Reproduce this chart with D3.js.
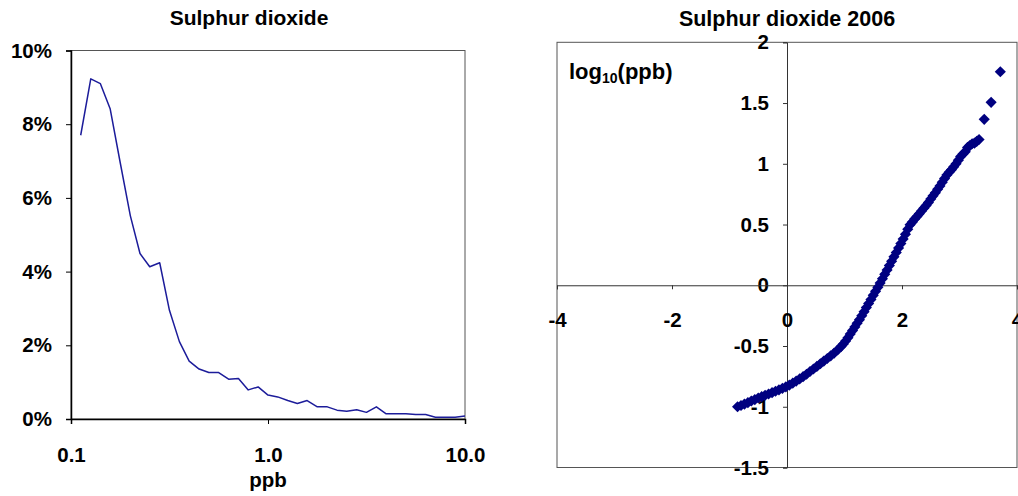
<!DOCTYPE html>
<html>
<head>
<meta charset="utf-8">
<script src="https://cdn.jsdelivr.net/npm/d3@7"></script>
<style>
  html, body { margin: 0; padding: 0; background: #fff; }
  svg { display: block; }
  text { font-family: "Liberation Sans", Arial, Helvetica, sans-serif; font-weight: bold; fill: #000; }
</style>
</head>
<body>
<svg id="chart" width="1018" height="496"></svg>
<script>
// Frequency distribution of hourly SO2 concentrations (log-spaced bins)
const binPpb = [0.112, 0.126, 0.141, 0.158, 0.178, 0.2, 0.224, 0.251, 0.282, 0.316,
                0.355, 0.398, 0.447, 0.501, 0.562, 0.631, 0.708, 0.794, 0.891, 1.0,
                1.12, 1.26, 1.41, 1.58, 1.78, 2.0, 2.24, 2.51, 2.82, 3.16,
                3.55, 3.98, 4.47, 5.01, 5.62, 6.31, 7.08, 7.94, 8.91, 10.0];
const binShare = [7.7, 9.23, 9.1, 8.42, 6.94, 5.52, 4.49, 4.13, 4.24, 2.95,
                  2.1, 1.57, 1.355, 1.26, 1.26, 1.08, 1.1, 0.79, 0.87, 0.65,
                  0.6, 0.5, 0.42, 0.5, 0.33, 0.33, 0.24, 0.21, 0.25, 0.18,
                  0.33, 0.14, 0.14, 0.14, 0.12, 0.12, 0.05, 0.05, 0.05, 0.08];
const distXTicks = [0.1, 1, 10];
const distYTicks = [0, 2, 4, 6, 8, 10];

// Normal probability plot for 2006: standard normal quantile vs log10(ppb)
const qqQuantile = [-0.86, -0.80, -0.74, -0.68, -0.62, -0.56, -0.50, -0.44, -0.38, -0.32,
                    -0.26, -0.20, -0.14, -0.08, -0.02, 0.04, 0.10, 0.16, 0.22, 0.28,
                    0.34, 0.40, 0.46, 0.52, 0.58, 0.64, 0.70, 0.76, 0.82, 0.88,
                    0.94, 0.98, 1.02, 1.06, 1.10, 1.14, 1.18, 1.22, 1.26, 1.30,
                    1.34, 1.38, 1.42, 1.46, 1.50, 1.54, 1.58, 1.62, 1.66, 1.70,
                    1.74, 1.78, 1.82, 1.86, 1.90, 1.94, 1.98, 2.02, 2.06, 2.10,
                    2.14, 2.18, 2.22, 2.26, 2.30, 2.34, 2.38, 2.42, 2.46, 2.50,
                    2.54, 2.58, 2.62, 2.66, 2.70, 2.74, 2.78, 2.82, 2.86, 2.90,
                    2.94, 2.98, 3.02, 3.06, 3.10, 3.14, 3.18, 3.22, 3.26, 3.30,
                    3.34, 3.43, 3.55, 3.71];
const qqLogPpb = [-1.000, -0.990, -0.978, -0.966, -0.953, -0.941, -0.928, -0.917, -0.905, -0.895,
                  -0.884, -0.872, -0.861, -0.849, -0.836, -0.822, -0.806, -0.789, -0.771, -0.752,
                  -0.732, -0.710, -0.689, -0.668, -0.646, -0.624, -0.603, -0.581, -0.558, -0.533,
                  -0.505, -0.483, -0.459, -0.431, -0.402, -0.373, -0.343, -0.313, -0.283, -0.251,
                  -0.218, -0.184, -0.150, -0.117, -0.083, -0.050, -0.017, 0.018, 0.054, 0.090,
                  0.126, 0.162, 0.198, 0.234, 0.270, 0.307, 0.343, 0.381, 0.420, 0.462,
                  0.498, 0.520, 0.545, 0.566, 0.588, 0.612, 0.635, 0.657, 0.682, 0.710,
                  0.736, 0.762, 0.790, 0.818, 0.848, 0.878, 0.908, 0.930, 0.951, 0.975,
                  1.000, 1.030, 1.060, 1.080, 1.100, 1.135, 1.150, 1.165, 1.170, 1.185,
                  1.200, 1.366, 1.506, 1.758];
const qqXTicks = [-4, -2, 0, 2, 4];
const qqYTicks = [-1.5, -1, -0.5, 0, 0.5, 1, 1.5, 2];

const svg = d3.select("#chart");
const lineColor = "#1c1c9a";
const markColor = "#000080";
const frameColor = "#555";

// ---------- Left panel: distribution ----------
const lx = d3.scaleLog().domain([0.1, 10]).range([71, 465]);
const ly = d3.scaleLinear().domain([0, 10]).range([419, 50.5]);

const left = svg.append("g");

// plot frame
left.append("rect")
  .attr("x", lx.range()[0]).attr("y", ly.range()[1])
  .attr("width", lx.range()[1] - lx.range()[0])
  .attr("height", ly.range()[0] - ly.range()[1])
  .attr("fill", "none").attr("stroke", frameColor).attr("stroke-width", 1);

const lyAxis = left.append("g")
  .attr("transform", `translate(${lx.range()[0]},0)`)
  .call(d3.axisLeft(ly).tickValues(distYTicks).tickSize(5).tickPadding(14)
        .tickFormat(d => d + "%"));
const lxAxis = left.append("g")
  .attr("transform", `translate(0,${ly.range()[0]})`)
  .call(d3.axisBottom(lx).tickValues(distXTicks).tickSize(5).tickPadding(23)
        .tickFormat(d3.format(".1f")));
[lyAxis, lxAxis].forEach(a => {
  a.selectAll("text").attr("font-size", 20.5).attr("font-family", null);
  a.selectAll("line").attr("stroke", "#000");
  a.select(".domain").attr("stroke", "#000").attr("stroke-width", 1.5);
  a.attr("font-family", null);
});

left.append("path")
  .datum(binPpb.map((p, i) => [p, binShare[i]]))
  .attr("fill", "none")
  .attr("stroke", lineColor)
  .attr("stroke-width", 1.5)
  .attr("stroke-linejoin", "round")
  .attr("d", d3.line().x(d => lx(d[0])).y(d => ly(d[1])));

left.append("text").attr("x", 249).attr("y", 25).attr("text-anchor", "middle")
  .attr("font-size", 21).text("Sulphur dioxide");
left.append("text").attr("x", 268).attr("y", 487).attr("text-anchor", "middle")
  .attr("font-size", 20.5).text("ppb");

// ---------- Right panel: normal probability plot ----------
const rx = d3.scaleLinear().domain([-4, 4]).range([557, 1017]);
const ry = d3.scaleLinear().domain([-1.5, 2]).range([467.5, 42.3]);

const right = svg.append("g");

right.append("rect")
  .attr("x", rx.range()[0]).attr("y", ry.range()[1])
  .attr("width", rx.range()[1] - rx.range()[0])
  .attr("height", ry.range()[0] - ry.range()[1])
  .attr("fill", "none").attr("stroke", frameColor).attr("stroke-width", 1);

const ryAxis = right.append("g")
  .attr("transform", `translate(${rx(0)},0)`)
  .call(d3.axisLeft(ry).tickValues(qqYTicks).tickSize(4).tickPadding(14)
        .tickFormat(d => String(d)));
const rxAxis = right.append("g")
  .attr("transform", `translate(0,${ry(0)})`)
  .call(d3.axisBottom(rx).tickValues(qqXTicks).tickSize(4).tickPadding(23)
        .tickFormat(d => String(d)));
[ryAxis, rxAxis].forEach(a => {
  a.selectAll("text").attr("font-size", 20.5).attr("font-family", null);
  a.selectAll("line").attr("stroke", "#333");
  a.select(".domain").attr("stroke", "#333").attr("stroke-width", 1);
  a.attr("font-family", null);
});

const diamond = d3.symbol().type(d3.symbolSquare).size(62);
right.append("g")
  .selectAll("path")
  .data(qqQuantile.map((q, i) => [q, qqLogPpb[i]]))
  .join("path")
  .attr("d", diamond)
  .attr("fill", markColor)
  .attr("transform", d => `translate(${rx(d[0])},${ry(d[1])}) rotate(45)`);

right.append("text").attr("x", 787).attr("y", 26).attr("text-anchor", "middle")
  .attr("font-size", 21.5).text("Sulphur dioxide 2006");

const yLabel = right.append("text").attr("x", 569).attr("y", 79).attr("font-size", 22);
yLabel.append("tspan").text("log");
yLabel.append("tspan").attr("font-size", 14).attr("dy", 4).text("10");
yLabel.append("tspan").attr("dy", -4).text("(ppb)");
</script>
</body>
</html>
